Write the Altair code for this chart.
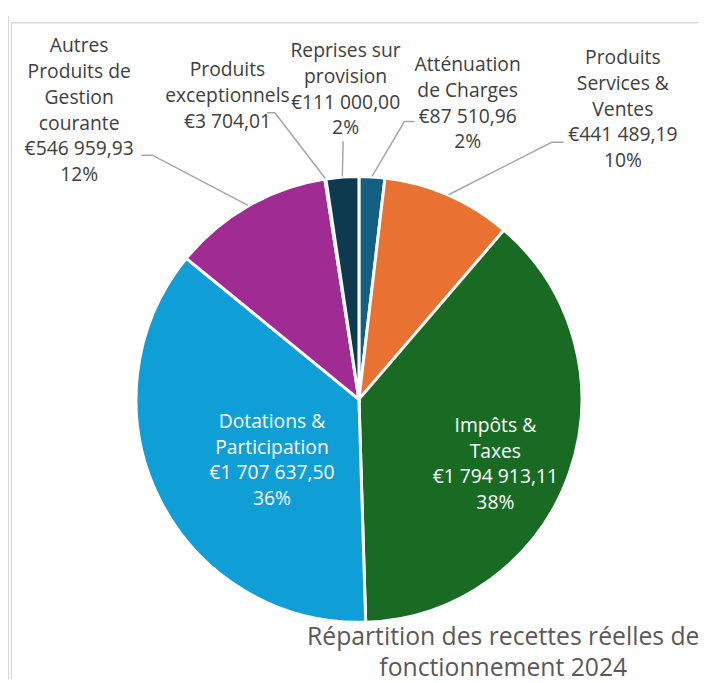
import math
import altair as alt
import pandas as pd

# ---------------- data ----------------
categories = [
    "Atténuation de Charges",
    "Produits Services & Ventes",
    "Impôts & Taxes",
    "Dotations & Participation",
    "Autres Produits de Gestion courante",
    "Produits exceptionnels",
    "Reprises sur provision",
]
values = [87510.96, 441489.19, 1794913.11, 1707637.50, 546959.93, 3704.01, 111000.00]
pct_labels = ["2%", "10%", "38%", "36%", "12%", "", "2%"]
title_lines = ["Répartition des recettes réelles de", "fonctionnement 2024"]

# ---------------- layout / style ----------------
colors = ["#156082", "#E97132", "#196B24", "#0F9ED5", "#A02B93", "#4EA72E", "#0D3A4E"]
name_wrap = [
    ["Atténuation", "de Charges"],
    ["Produits", "Services &", "Ventes"],
    ["Impôts &", "Taxes"],
    ["Dotations &", "Participation"],
    ["Autres", "Produits de", "Gestion", "courante"],
    ["Produits", "exceptionnels"],
    ["Reprises sur", "provision"],
]
label_anchor = [(465, 54), (622, 47), (493, 419), (267, 415), (72, 35), (222, 59), (341.5, 40)]
label_inside = [False, False, True, True, False, False, False]
elbows = [
    [(411, 111), (401, 111)],
    [(562, 132), (550, 132)],
    [],
    [],
    [(135, 145), (146, 145)],
    [(262, 102), (270, 102)],
    [(339, 131)],
]
W, H = 698, 675
CX, CY = 355, 392
R = 225.5
LH = 26
FONT = "Open Sans"


def euro(v):
    s = f"{v:,.2f}"
    s = s.replace(",", "X").replace(".", ",").replace("X", "\u00a0")
    return "€" + s


# pie data
pie_df = pd.DataFrame({"cat": categories, "value": values, "idx": list(range(len(values)))})

total = sum(values)
cum = 0.0
leader_rows = []
label_rows = []
for i, (c, v) in enumerate(zip(categories, values)):
    mid = 2 * math.pi * (cum + v / 2) / total
    cum += v
    lines = list(name_wrap[i]) + [euro(v)]
    if pct_labels[i]:
        lines.append(pct_labels[i])
    ax, ay = label_anchor[i]
    for k, t in enumerate(lines):
        label_rows.append({"x": ax, "y": ay + k * LH, "text": t,
                           "grp": "in" if label_inside[i] else "out"})
    if elbows[i]:
        pts = list(elbows[i]) + [(CX + (R + 0.5) * math.sin(mid), CY - (R + 0.5) * math.cos(mid))]
        for k, (px, py) in enumerate(pts):
            leader_rows.append({"cat": c, "o": k, "x": px, "y": py})

label_df = pd.DataFrame(label_rows)
leader_df = pd.DataFrame(leader_rows)
title_df = pd.DataFrame({"x": [501, 501], "y": [632, 664], "text": title_lines})

pie = alt.Chart(pie_df).mark_arc(outerRadius=R, stroke="white", strokeWidth=3).encode(
    theta=alt.Theta("value:Q", stack=True),
    order=alt.Order("idx:Q", sort="ascending"),
    color=alt.Color("cat:N", scale=alt.Scale(domain=categories, range=colors), legend=None),
    x=alt.value(CX),
    y=alt.value(CY),
)

leaders = alt.Chart(leader_df).mark_line(color="#A6A6A6", strokeWidth=1.5).encode(
    x=alt.X("x:Q", scale=None),
    y=alt.Y("y:Q", scale=None),
    detail="cat:N",
    order="o:Q",
)


def text_layer(grp, col):
    return alt.Chart(label_df[label_df["grp"] == grp]).mark_text(
        font=FONT, fontSize=19.5, baseline="middle", align="center", color=col
    ).encode(
        x=alt.X("x:Q", scale=None),
        y=alt.Y("y:Q", scale=None),
        text="text:N",
    )


labels_out = text_layer("out", "#404040")
labels_in = text_layer("in", "#FFFFFF")

title = alt.Chart(title_df).mark_text(font=FONT, fontSize=25, baseline="middle", align="center",
                                      color="#595959").encode(
    x=alt.X("x:Q", scale=None),
    y=alt.Y("y:Q", scale=None),
    text="text:N",
)

frame_df = pd.DataFrame({"x": [0.5, 3.5, 3.5], "x2": [0.5, 3.5, 698],
                         "y": [4, 11, 11], "y2": [675, 675, 11]})
frame = alt.Chart(frame_df).mark_rule(color="#D9D9D9", strokeWidth=1.3).encode(
    x=alt.X("x:Q", scale=None), x2="x2:Q",
    y=alt.Y("y:Q", scale=None), y2="y2:Q",
)

chart = alt.layer(frame, pie, leaders, labels_out, labels_in, title).properties(
    width=W, height=H, padding=0, autosize=alt.AutoSizeParams(type="none"),
    background="white",
).configure_view(stroke=None)

chart.save("out.html", embed_options={"renderer": "svg", "actions": False})
